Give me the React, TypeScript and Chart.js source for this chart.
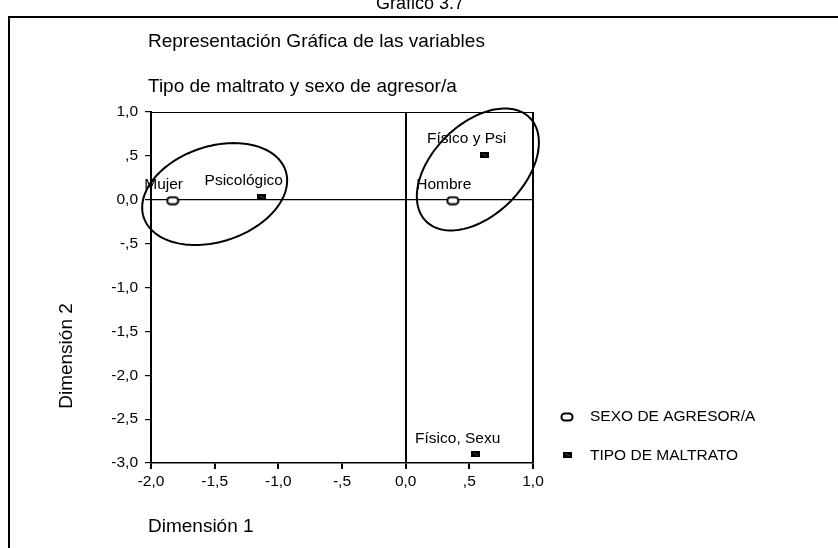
import React, { useEffect, useRef } from "react";
import { Chart, registerables } from "chart.js";

Chart.register(...registerables);

// ---- data ----
const sexoLabels = ["Mujer", "Hombre"];
const sexoX = [-1.83, 0.37];
const sexoY = [-0.01, -0.01];

const tipoLabels = ["Psicológico", "Físico y Psi", "Físico, Sexu"];
const tipoX = [-1.13, 0.62, 0.55];
const tipoY = [0.03, 0.51, -2.9];

const xTickValues = [-2, -1.5, -1, -0.5, 0, 0.5, 1];
const xTickLabels = ["-2,0", "-1,5", "-1,0", "-,5", "0,0", ",5", "1,0"];
const yTickLabels = ["-3,0", "-2,5", "-2,0", "-1,5", "-1,0", "-,5", "0,0", ",5", "1,0"];

const legendLabels = ["SEXO DE AGRESOR/A", "TIPO DE MALTRATO"];

// ellipses: centre and two conjugate semi-axes, in data units
const ellipseCenters = [[-1.5, 0.065], [0.567, 0.345]];
const ellipseAxisU = [[0.557, 0.266], [0.407, 0.59]];
const ellipseAxisV = [[0.117, -0.516], [0.253, -0.367]];

const titleTop = "Gráfico 3.7";
const title1 = "Representación Gráfica de las variables";
const title2 = "Tipo de maltrato y sexo de agresor/a";
const xTitle = "Dimensión 1";
const yTitle = "Dimensión 2";

// ---- layout ----
const W = 838;
const H = 548;
const FONT = "'Liberation Sans', Arial, Helvetica, sans-serif";

function makeSexoMarker() {
  const c = document.createElement("canvas");
  c.width = 14;
  c.height = 10;
  const g = c.getContext("2d")!;
  g.fillStyle = "#fff";
  g.strokeStyle = "#000";
  g.lineWidth = 2;
  g.beginPath();
  (g as any).roundRect(1.5, 1.5, 11, 7, 3.3);
  g.fill();
  g.stroke();
  return c;
}

function makeTipoMarker() {
  const c = document.createElement("canvas");
  c.width = 9;
  c.height = 6;
  const g = c.getContext("2d")!;
  g.fillStyle = "#000";
  g.fillRect(0, 0, 9, 6);
  g.strokeStyle = "#555";
  g.lineWidth = 0.8;
  g.beginPath();
  g.moveTo(2, 1.8);
  g.lineTo(7, 4.2);
  g.stroke();
  return c;
}

export default function App() {
  const ref = useRef<HTMLCanvasElement>(null);

  useEffect(() => {
    const canvas = ref.current!;
    const sexoMarker = makeSexoMarker();
    const tipoMarker = makeTipoMarker();

    const decor = {
      id: "decor",
      beforeDraw(chart: any) {
        const ctx = chart.ctx;
        ctx.save();
        ctx.fillStyle = "#fff";
        ctx.fillRect(0, 0, W, H);
        // outer frame
        ctx.strokeStyle = "#000";
        ctx.lineWidth = 2;
        ctx.strokeRect(9, 17, 1000, 1000);
        // texts
        ctx.fillStyle = "#000";
        ctx.textBaseline = "alphabetic";
        ctx.textAlign = "center";
        ctx.font = `18px ${FONT}`;
        ctx.fillText(titleTop, 420, 9);
        ctx.textAlign = "left";
        ctx.textBaseline = "middle";
        ctx.font = `19px ${FONT}`;
        ctx.fillText(title1, 148, 42);
        ctx.fillText(title2, 148, 87);
        ctx.fillText(xTitle, 148, 527);
        ctx.save();
        ctx.translate(67, 356);
        ctx.rotate(-Math.PI / 2);
        ctx.textAlign = "center";
        ctx.fillText(yTitle, 0, 0);
        ctx.restore();
        ctx.restore();
      },
      afterDraw(chart: any) {
        const ctx = chart.ctx;
        const xs = chart.scales.x;
        const ys = chart.scales.y;
        const a = chart.chartArea;
        ctx.save();
        ctx.strokeStyle = "#000";
        // top and right box lines
        ctx.lineWidth = 1.2;
        ctx.beginPath();
        ctx.moveTo(a.left, a.top + 0.5);
        ctx.lineTo(a.right, a.top + 0.5);
        ctx.stroke();
        ctx.lineWidth = 2;
        ctx.beginPath();
        ctx.moveTo(a.right, a.top);
        ctx.lineTo(a.right, a.bottom);
        ctx.stroke();
        // ellipses
        ctx.lineWidth = 2;
        for (let k = 0; k < ellipseCenters.length; k++) {
          const c = ellipseCenters[k];
          const u = ellipseAxisU[k];
          const v = ellipseAxisV[k];
          ctx.beginPath();
          for (let i = 0; i <= 160; i++) {
            const t = (i / 160) * Math.PI * 2;
            const dx = c[0] + u[0] * Math.cos(t) + v[0] * Math.sin(t);
            const dy = c[1] + u[1] * Math.cos(t) + v[1] * Math.sin(t);
            const px = xs.getPixelForValue(dx);
            const py = ys.getPixelForValue(dy);
            if (i === 0) ctx.moveTo(px, py);
            else ctx.lineTo(px, py);
          }
          ctx.closePath();
          ctx.stroke();
        }
        // point labels
        ctx.fillStyle = "#000";
        ctx.font = `15.5px ${FONT}`;
        ctx.textAlign = "center";
        ctx.textBaseline = "middle";
        const put = (labels: string[], xv: number[], yv: number[], dx: number) => {
          labels.forEach((l, i) => {
            ctx.fillText(l, xs.getPixelForValue(xv[i]) + dx, ys.getPixelForValue(yv[i]) - 16);
          });
        };
        put(sexoLabels, sexoX, sexoY, -9);
        put(tipoLabels, tipoX, tipoY, -18);
        // legend
        const markers = [sexoMarker, tipoMarker];
        const rows = [416.5, 455];
        ctx.textAlign = "left";
        legendLabels.forEach((l, i) => {
          const m = markers[i];
          ctx.drawImage(m, Math.round(567 - m.width / 2), Math.round(rows[i] - m.height / 2));
          ctx.fillText(l, 590, rows[i] + 0.5);
        });
        ctx.restore();
      },
    };

    const chart = new Chart(canvas, {
      type: "scatter",
      data: {
        datasets: [
          {
            label: legendLabels[0],
            data: sexoX.map((x, i) => ({ x, y: sexoY[i] })),
            pointStyle: sexoMarker as any,
            pointRadius: 6,
          },
          {
            label: legendLabels[1],
            data: tipoX.map((x, i) => ({ x, y: tipoY[i] })),
            pointStyle: tipoMarker as any,
            pointRadius: 5,
          },
        ],
      },
      options: {
        animation: false,
        responsive: false,
        devicePixelRatio: 1,
        events: [],
        layout: { padding: { left: 106, right: 305, top: 112, bottom: 50 } },
        plugins: { legend: { display: false }, tooltip: { enabled: false }, title: { display: false } },
        scales: {
          x: {
            type: "linear",
            min: -2,
            max: 1,
            afterBuildTicks: (s: any) => {
              s.ticks = xTickValues.map((v) => ({ value: v }));
            },
            afterFit: (s: any) => {
              s.height = 35;
            },
            ticks: {
              callback: (_v: any, i: number) => xTickLabels[i],
              color: "#000",
              font: { family: FONT, size: 15.5 },
              padding: 3,
              maxRotation: 0,
              autoSkip: false,
            },
            grid: {
              drawOnChartArea: true,
              color: (c: any) => (c.tick && c.tick.value === 0 ? "#000" : "rgba(0,0,0,0)"),
              tickColor: "#000",
              tickLength: 6,
              lineWidth: 2,
            },
            border: { display: true, color: "#000", width: 1.5 },
          },
          y: {
            type: "linear",
            min: -3,
            max: 1,
            ticks: {
              stepSize: 0.5,
              callback: (_v: any, i: number) => yTickLabels[i],
              color: "#000",
              font: { family: FONT, size: 15.5 },
              padding: 7,
              autoSkip: false,
            },
            afterFit: (s: any) => {
              s.width = 45;
            },
            grid: {
              drawOnChartArea: true,
              color: (c: any) => (c.tick && c.tick.value === 0 ? "#000" : "rgba(0,0,0,0)"),
              tickColor: "#000",
              tickLength: 6,
              lineWidth: 1.2,
            },
            border: { display: true, color: "#000", width: 2 },
          },
        },
      },
      plugins: [decor],
    } as any);

    return () => chart.destroy();
  }, []);

  return (
    <div style={{ position: "absolute", left: 0, top: 0, width: W, height: H, overflow: "hidden", background: "#fff" }}>
      <canvas ref={ref} width={W} height={H} style={{ width: W, height: H, display: "block" }} />
    </div>
  );
}
